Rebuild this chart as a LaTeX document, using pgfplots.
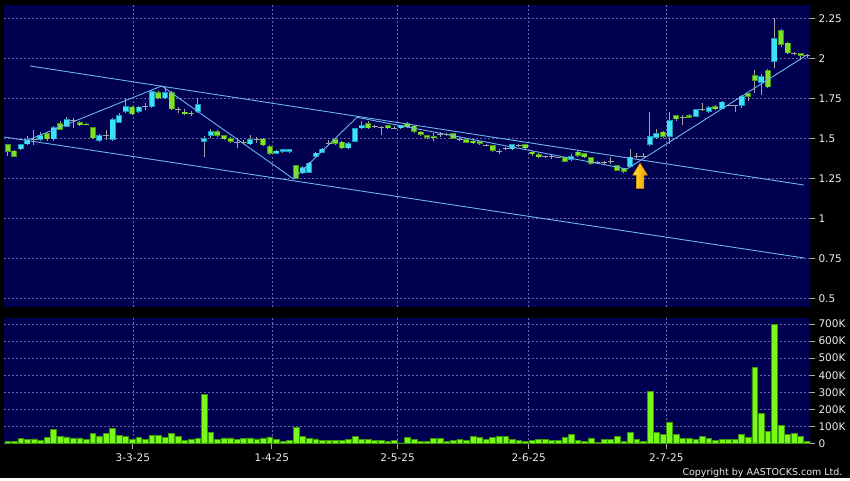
\documentclass[border=0pt]{standalone}
\usepackage{pgfplots}
\pgfplotsset{compat=1.18}
\usepackage{pgfplotstable}
\usepackage{fontspec}
\setmainfont{DejaVu Sans}
\definecolor{navy}{RGB}{0,0,80}
\definecolor{gridc}{RGB}{105,105,160}
\definecolor{tickc}{RGB}{170,170,170}
\definecolor{labelc}{RGB}{235,235,235}
\definecolor{wickc}{RGB}{165,165,165}
\definecolor{upE}{RGB}{30,150,185}
\definecolor{upF}{RGB}{60,225,250}
\definecolor{dnE}{RGB}{70,150,20}
\definecolor{dnF}{RGB}{125,225,40}
\definecolor{volF}{RGB}{118,250,22}
\definecolor{volE}{RGB}{60,150,10}
\definecolor{trendc}{RGB}{110,180,235}
\definecolor{arrowY}{RGB}{255,230,40}
\definecolor{arrowO}{RGB}{235,150,0}

\pgfplotstableread{
k o h l c v
0 1.462 1.465 1.39 1.416 14
1 1.422 1.425 1.38 1.385 14
2 1.431 1.465 1.425 1.462 29
3 1.462 1.514 1.455 1.494 25
4 1.495 1.55 1.46 1.495 27
5 1.489 1.54 1.485 1.519 20
6 1.531 1.54 1.485 1.494 35
7 1.494 1.575 1.48 1.569 82
8 1.594 1.605 1.55 1.552 41
9 1.572 1.63 1.57 1.619 39
10 1.61 1.625 1.565 1.61 33
11 1.602 1.605 1.578 1.581 33
12 1.592 1.595 1.58 1.585 24
13 1.569 1.57 1.495 1.50 57
14 1.483 1.525 1.475 1.519 45
15 1.519 1.55 1.49 1.519 61
16 1.489 1.625 1.485 1.619 90
17 1.598 1.66 1.595 1.644 49
18 1.666 1.75 1.66 1.702 41
19 1.6975 1.70 1.645 1.65 24
20 1.666 1.70 1.66 1.6975 37
21 1.6975 1.72 1.675 1.6975 24
22 1.6975 1.80 1.69 1.796 49
23 1.79 1.795 1.745 1.75 47
24 1.75 1.8225 1.745 1.79 37
25 1.79 1.795 1.675 1.681 61
26 1.677 1.695 1.655 1.677 43
27 1.666 1.685 1.645 1.65 20
28 1.66 1.67 1.64 1.65 22
29 1.666 1.75 1.66 1.714 29
30 1.479 1.514 1.385 1.50 288
31 1.516 1.555 1.50 1.546 67
32 1.546 1.55 1.51 1.516 25
33 1.519 1.52 1.49 1.494 33
34 1.50 1.505 1.47 1.479 33
35 1.4725 1.50 1.44 1.4725 22
36 1.479 1.49 1.465 1.471 31
37 1.4625 1.52 1.46 1.494 33
38 1.494 1.51 1.47 1.494 27
39 1.4975 1.50 1.45 1.456 33
40 1.452 1.455 1.395 1.402 39
41 1.402 1.425 1.40 1.4225 22
42 1.414 1.435 1.41 1.431 10
43 1.414 1.435 1.41 1.431 18
44 1.331 1.335 1.245 1.2475 96
45 1.281 1.325 1.275 1.319 43
46 1.285 1.35 1.28 1.3475 29
47 1.385 1.415 1.38 1.41 27
48 1.41 1.44 1.405 1.435 20
49 1.469 1.49 1.46 1.469 16
50 1.494 1.50 1.46 1.464 16
51 1.479 1.48 1.435 1.4375 16
52 1.4375 1.475 1.43 1.469 24
53 1.479 1.565 1.475 1.5625 41
54 1.5625 1.61 1.56 1.583 22
55 1.594 1.61 1.56 1.5625 25
56 1.573 1.585 1.565 1.573 18
57 1.566 1.575 1.52 1.566 18
58 1.58 1.585 1.56 1.5625 12
59 1.5625 1.575 1.555 1.5625 16
60 1.5625 1.585 1.555 1.58 4
61 1.594 1.60 1.565 1.569 37
62 1.579 1.585 1.535 1.541 24
63 1.541 1.545 1.515 1.52 14
64 1.519 1.52 1.495 1.502 12
65 1.515 1.535 1.48 1.50 29
66 1.525 1.54 1.51 1.525 29
67 1.525 1.53 1.515 1.525 12
68 1.531 1.535 1.495 1.4975 16
69 1.494 1.51 1.48 1.494 25
70 1.494 1.50 1.47 1.4725 18
71 1.485 1.49 1.465 1.469 41
72 1.481 1.485 1.46 1.464 35
73 1.458 1.465 1.45 1.458 24
74 1.458 1.46 1.415 1.42 35
75 1.416 1.43 1.40 1.416 41
76 1.4375 1.445 1.425 1.4375 41
77 1.431 1.465 1.425 1.4625 22
78 1.458 1.465 1.445 1.458 20
79 1.4625 1.465 1.435 1.4375 14
80 1.416 1.42 1.39 1.40 18
81 1.40 1.405 1.375 1.381 25
82 1.385 1.39 1.375 1.385 25
83 1.385 1.40 1.37 1.385 16
84 1.38 1.385 1.375 1.38 20
85 1.381 1.385 1.35 1.352 37
86 1.364 1.40 1.355 1.389 53
87 1.416 1.42 1.385 1.389 16
88 1.406 1.41 1.375 1.381 12
89 1.381 1.385 1.335 1.339 33
90 1.3475 1.355 1.34 1.3475 8
91 1.3475 1.36 1.34 1.3475 22
92 1.354 1.385 1.34 1.354 22
93 1.333 1.335 1.295 1.2975 41
94 1.3125 1.315 1.285 1.291 14
95 1.3225 1.431 1.32 1.385 67
96 1.385 1.41 1.375 1.385 22
97 1.385 1.41 1.38 1.385 12
98 1.458 1.666 1.45 1.514 304
99 1.502 1.56 1.495 1.531 65
100 1.541 1.545 1.50 1.51 51
101 1.51 1.666 1.465 1.614 127
102 1.644 1.645 1.61 1.619 53
103 1.627 1.645 1.585 1.627 29
104 1.646 1.65 1.625 1.629 29
105 1.635 1.685 1.63 1.681 24
106 1.677 1.72 1.67 1.677 41
107 1.664 1.70 1.66 1.694 31
108 1.702 1.705 1.675 1.681 18
109 1.685 1.735 1.68 1.729 24
110 1.706 1.71 1.70 1.706 24
111 1.702 1.705 1.665 1.702 24
112 1.702 1.77 1.69 1.764 53
113 1.781 1.785 1.735 1.76 37
114 1.894 1.925 1.78 1.86 445
115 1.8475 1.90 1.77 1.89 175
116 1.927 1.93 1.815 1.819 73
117 1.979 2.25 1.94 2.125 696
118 2.177 2.18 2.07 2.083 106
119 2.0975 2.10 2.025 2.031 55
120 2.031 2.04 2.02 2.031 61
121 2.031 2.035 1.99 2.014 41
122 2.02 2.025 2.00 2.02 12
}\data

\pgfplotsset{
  chartbase/.style={
    scale only axis, width=806bp, anchor=south west,
    xmin=-0.565, xmax=122.43,
    axis background/.style={fill=navy},
    axis line style={draw=none},
    ytick pos=right, yticklabel pos=right,
    tick align=outside,
    grid=major,
    major grid style={draw=gridc, line width=0.5bp, dash pattern=on 2bp off 2bp},
    xtick={19.1,40.3,59.5,79.5,100.5},
    tick label style={font=\fontsize{10.5bp}{12bp}\selectfont, text=labelc},
    ytick style={draw=tickc, line width=0.8bp},
    major tick length=5bp,
  },
}

\begin{document}
\begin{tikzpicture}
\fill[black] (0,0) rectangle (850bp,478bp);

% price panel
\begin{axis}[chartbase,
  at={(4bp,171.3bp)}, height=301.7bp,
  ymin=0.4475, ymax=2.333,
  ytick={0.5,0.75,1,1.25,1.5,1.75,2,2.25},
  yticklabels={0.5,0.75,1,1.25,1.5,1.75,2,2.25},
  xticklabels={}, xtick style={draw=none},
]
% wicks
\addplot[forget plot, draw=none, mark=none,
  error bars/.cd, y dir=plus, y explicit, error mark=none,
  error bar style={draw=wickc, line width=0.9bp}]
  table[x=k, y=l, y error plus expr=\thisrow{h}-\thisrow{l}] {\data};
% up bodies
\addplot[forget plot, draw=none, mark=none,
  restrict expr to domain={\thisrow{c}-\thisrow{o}}{0.0001:10},
  error bars/.cd, y dir=plus, y explicit, error mark=none,
  error bar style={draw=upE, line width=6bp}]
  table[x=k, y=o, y error plus expr=\thisrow{c}-\thisrow{o}] {\data};
\addplot[forget plot, draw=none, mark=none,
  restrict expr to domain={\thisrow{c}-\thisrow{o}}{0.0001:10},
  error bars/.cd, y dir=plus, y explicit, error mark=none,
  error bar style={draw=upF, line width=4.4bp, shorten <=0.7bp, shorten >=0.7bp}]
  table[x=k, y=o, y error plus expr=\thisrow{c}-\thisrow{o}] {\data};
% down bodies
\addplot[forget plot, draw=none, mark=none,
  restrict expr to domain={\thisrow{c}-\thisrow{o}}{-10:-0.0001},
  error bars/.cd, y dir=plus, y explicit, error mark=none,
  error bar style={draw=dnE, line width=6bp}]
  table[x=k, y=c, y error plus expr=\thisrow{o}-\thisrow{c}] {\data};
\addplot[forget plot, draw=none, mark=none,
  restrict expr to domain={\thisrow{c}-\thisrow{o}}{-10:-0.0001},
  error bars/.cd, y dir=plus, y explicit, error mark=none,
  error bar style={draw=dnF, line width=4.4bp, shorten <=0.7bp, shorten >=0.7bp}]
  table[x=k, y=c, y error plus expr=\thisrow{o}-\thisrow{c}] {\data};
% flat candles
\addplot[forget plot, only marks, mark=-, mark size=3bp,
  mark options={draw=wickc, line width=1bp},
  restrict expr to domain={\thisrow{c}-\thisrow{o}}{-0.0001:0.0001}]
  table[x=k, y=o] {\data};
% trend lines
\addplot[trendc, line width=0.9bp] coordinates {(3.40,1.952) (121.5,1.208)};
\addplot[trendc, line width=0.9bp] coordinates {(-0.56,1.508) (121.5,0.752)};
\addplot[trendc, line width=0.9bp] coordinates {(3.40,1.494) (23.5,1.827) (43.6,1.246) (53.3,1.631) (94.5,1.308) (121.7,2.014)};
% arrow
\path[left color=arrowY, right color=arrowO, draw=arrowO, line width=0.5bp]
  (axis cs:96.5,1.344) -- (axis cs:97.61,1.27) -- (axis cs:97.06,1.27)
  -- (axis cs:97.06,1.1875) -- (axis cs:95.94,1.1875) -- (axis cs:95.94,1.27)
  -- (axis cs:95.39,1.27) -- cycle;
\end{axis}

% volume panel
\begin{axis}[chartbase,
  at={(4bp,34.5bp)}, height=125.2bp,
  ymin=0, ymax=733,
  ytick={0,100,200,300,400,500,600,700},
  yticklabels={0,100K,200K,300K,400K,500K,600K,700K},
  xticklabels={3-3-25,1-4-25,2-5-25,2-6-25,2-7-25},
  xtick pos=bottom,
  xtick style={draw=tickc, line width=0.8bp},
  xticklabel style={yshift=-2bp},
]
\addplot[ybar, bar width=5.8bp, bar shift=0pt, fill=volF, draw=volE, line width=0.6bp]
  table[x=k, y=v] {\data};
\end{axis}

\node[anchor=base east, font=\fontsize{9.5bp}{11bp}\selectfont, text=labelc] at (846bp,3bp) {Copyright by AASTOCKS.com Ltd.};
\end{tikzpicture}
\end{document}
